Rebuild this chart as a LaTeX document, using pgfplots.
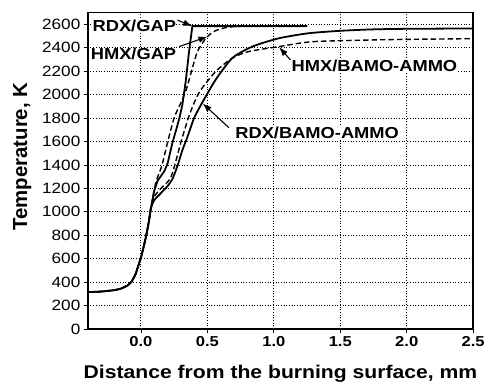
\documentclass[border=0pt]{standalone}
\usepackage{fontspec}
\setmainfont{Liberation Sans}[FakeStretch=1.15]
\newfontfamily\ylabfont{Liberation Sans}
\usepackage{pgfplots}
\pgfplotsset{compat=1.18}
\usetikzlibrary{arrows.meta}
\tikzset{annot/.style={fill=white, inner sep=0.5pt, font=\fontsize{16}{18}\selectfont\bfseries},
  arr/.style={line width=1.1pt, -{Latex[length=9pt,width=6.5pt]}}}
\begin{document}
\begin{tikzpicture}
\begin{axis}[
  scale only axis, width=387.7pt, height=318.3pt,
  xmin=-0.4, xmax=2.5, ymin=0, ymax=2700,
  xtick={0,0.5,1,1.5,2,2.5}, xticklabels={0.0,0.5,1.0,1.5,2.0,2.5},
  ytick={0,200,...,2600},
  tick align=outside, major tick length=4pt, tick pos=left,
  tick style={black, line width=0.8pt},
  axis line style={line width=1.6pt},
  grid=major, grid style={black, line width=0.9pt, dash pattern=on 0.9pt off 1.8pt},
  /pgf/number format/assume math mode=true,
  /pgf/number format/1000 sep={},
  xticklabel style={font=\fontsize{14.5}{16}\selectfont\bfseries},
  yticklabel style={font=\fontsize{15}{16}\selectfont},
  xlabel={Distance from the burning surface, mm},
  xlabel style={font=\fontsize{18.5}{20}\selectfont\bfseries, at={(axis description cs:0.5,-0.141)}, anchor=center},
  ylabel={Temperature, K},
  ylabel style={font=\ylabfont\fontsize{20.5}{22}\selectfont\bfseries, at={(axis description cs:-0.17,0.545)}, anchor=center},
  clip=false,
]
% RDX/GAP (solid)
\addplot[black, line width=1.8pt] coordinates {
(-0.4,315) (-0.3,320) (-0.2,332) (-0.15,345) (-0.1,372) (-0.07,405) (-0.04,470) (-0.02,540) (0,610) (0.02,700) (0.04,800) (0.06,920) (0.075,1030)
(0.1,1180) (0.125,1265) (0.15,1305) (0.175,1345) (0.2,1410) (0.237,1590) (0.265,1700) (0.29,1803) (0.312,1916) (0.337,2113) (0.362,2368) (0.387,2585) (1.25,2585)};
% HMX/GAP (dashed)
\addplot[black, line width=1.4pt, dash pattern=on 5.5pt off 3pt, smooth, tension=0.4] coordinates {
(-0.4,315) (-0.3,320) (-0.2,332) (-0.15,345) (-0.1,372) (-0.07,405) (-0.04,470) (-0.02,540) (0,610) (0.02,700) (0.04,800) (0.06,920) (0.075,1030)
(0.1,1190) (0.12,1280) (0.157,1393) (0.2,1591) (0.25,1803) (0.3,1930) (0.34,2040) (0.387,2227) (0.425,2368) (0.4875,2480) (0.55,2540) (0.65,2575) (0.8,2585) (1.25,2585)};
% RDX/BAMO-AMMO (solid)
\addplot[black, line width=1.8pt, smooth, tension=0.4] coordinates {
(-0.4,315) (-0.3,320) (-0.2,332) (-0.15,345) (-0.1,372) (-0.07,405) (-0.04,470) (-0.02,540) (0,610) (0.02,700) (0.04,800) (0.06,920) (0.075,1030)
(0.1,1100) (0.15,1160) (0.2,1220) (0.237,1280) (0.275,1393) (0.31,1520) (0.35,1640) (0.4,1800) (0.46,1930) (0.5625,2128) (0.687,2312) (0.837,2410) (1.037,2481) (1.26,2524) (1.5,2545) (1.74,2557) (2.0,2562) (2.5,2565)};
% HMX/BAMO-AMMO (dashed)
\addplot[black, line width=1.4pt, dash pattern=on 5.5pt off 3pt, smooth, tension=0.4] coordinates {
(-0.4,315) (-0.3,320) (-0.2,332) (-0.15,345) (-0.1,372) (-0.07,405) (-0.04,470) (-0.02,540) (0,610) (0.02,700) (0.04,800) (0.06,920) (0.075,1030)
(0.1,1130) (0.15,1200) (0.2,1255) (0.225,1295) (0.25,1380) (0.3,1591) (0.357,1803) (0.4,1930) (0.45,2040) (0.5625,2198) (0.687,2312) (0.81,2368) (1.037,2410) (1.287,2452) (1.74,2467) (2.0,2472) (2.5,2478)};
% annotations
\node[annot] at (axis cs:-0.05,2590) {RDX/GAP};
\node[annot] at (axis cs:-0.056,2347) {HMX/GAP};
\node[annot] at (axis cs:1.757,2242) {HMX/BAMO-AMMO};
\node[annot] at (axis cs:1.326,1670) {RDX/BAMO-AMMO};
\draw[arr] (axis cs:0.275,2636) -- (axis cs:0.385,2585);
\draw[arr] (axis cs:0.287,2410) -- (axis cs:0.5,2495);
\draw[arr] (axis cs:1.125,2297) -- (axis cs:1.04,2405);
\draw[arr] (axis cs:0.662,1718) -- (axis cs:0.465,1925);
\path (rel axis cs:-0.2278,-0.179) rectangle (rel axis cs:1.031,1.04);
\end{axis}
\end{tikzpicture}
\end{document}
